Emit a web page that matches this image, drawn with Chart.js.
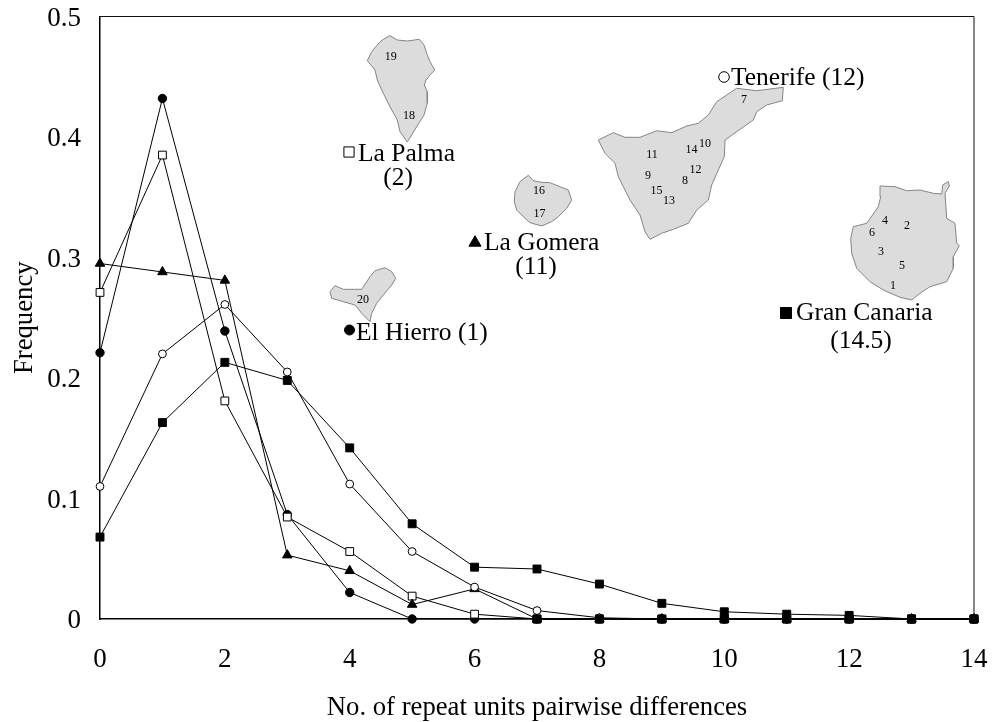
<!DOCTYPE html>
<html>
<head>
<meta charset="utf-8">
<script src="https://cdn.jsdelivr.net/npm/chart.js@4"></script>
<style>
  body { margin: 0; background: #fff; }
  canvas { display: block; }
</style>
</head>
<body>
<canvas id="myChart" width="992" height="722"></canvas>
<script>
const pairwiseDiffs = [0, 1, 2, 3, 4, 5, 6, 7, 8, 9, 10, 11, 12, 13, 14];

const granCanaria = [0.068, 0.163, 0.213, 0.198, 0.142, 0.079, 0.043, 0.0415, 0.029, 0.013, 0.006, 0.004, 0.003, 0, 0];
const tenerife = [0.11, 0.22, 0.261, 0.205, 0.112, 0.056, 0.0265, 0.007, 0.001, 0, 0, 0, 0, 0, 0];
const laGomera = [0.295, 0.288, 0.281, 0.053, 0.04, 0.012, 0.025, 0, 0, 0, 0, 0, 0, 0, 0];
const laPalma = [0.271, 0.385, 0.181, 0.0846, 0.056, 0.019, 0.004, 0, 0, 0, 0, 0, 0, 0, 0];
const elHierro = [0.221, 0.432, 0.239, 0.0867, 0.022, 0, 0, 0, 0, 0, 0, 0, 0, 0, 0];
// filled squares sitting on the zero line in the picture
const zeroSquares = [null, null, null, null, null, null, null, 0, 0, 0, 0, 0, 0, 0, 0];

// island outlines, in map units (see mapX / mapY scales)
const laPalmaShape = [[390,35.7],[397.3,40],[407.3,41],[419.3,39.3],[424,45],[426.7,53.3],[430,61.7],[434.7,70],[430,75],[426,80],[424.3,85],[427.3,91.7],[427.3,103.3],[424,115],[416.7,126.7],[407.3,142],[400,131.7],[397.3,120],[390,106.7],[383.3,93.3],[377.3,80],[375,70],[367.3,60.7],[371.7,51.7],[380,41.7],[385,38.3]];
const laGomeraShape = [[528.3,175.3],[533.3,180.7],[541.7,182.3],[550,182.7],[560,186.7],[568.3,190],[571.7,200],[566.7,208.3],[558.3,216.7],[551.7,221.7],[541.7,226],[530,222.7],[523.3,216.7],[516.7,210],[514.3,201.7],[515,191.7],[520,181.7]];
const elHierroShape = [[330,291.7],[335,285.7],[343.3,289.3],[361.7,289.3],[370,276.7],[375,270.7],[385,267.7],[391.7,271.7],[395.7,278.3],[391.7,285],[383.3,295],[376.7,303.3],[371.7,313.3],[370,321.7],[361.7,313.3],[355,305],[343.3,301.7],[331.7,298.3]];
const tenerifeShape = [[598.3,140],[613.3,132.7],[625,137.3],[640,137.3],[656.7,130.7],[671.7,132.7],[686.7,126],[698.3,123.3],[708.3,115],[716.7,101.7],[726.7,95],[736.7,88.3],[756.7,90.7],[783.3,87.3],[782.3,100.7],[766.7,105],[756.7,111.7],[753.3,120],[736.7,131.7],[725,140],[724.3,156.7],[718.3,170],[711.7,185],[708.3,200],[696.7,210],[688.3,223.3],[673.3,229.3],[661.7,233.3],[650,239.3],[645,231.7],[640,215],[630,200],[618.3,176.7],[615,163.3],[605,153.3]];
const granCanariaShape = [[880,186],[895,186.7],[906.7,190.7],[920,190],[933.3,193.3],[941.7,194],[942.7,185],[948.3,181.7],[949.3,186],[945,193.3],[946.7,218.3],[955,223.3],[956.7,243.3],[959.3,245.7],[953.3,256.7],[953.3,268.3],[946.7,281.7],[930,286.7],[920,293.3],[911.7,300],[900,297.3],[883.3,290],[870,281.7],[856.7,268.3],[851.7,253.3],[850.7,238.3],[853.3,226.7],[866.7,223.3],[878.3,206.7],[880.7,196.7]];

const siteLabels = [
  ['19',390.7,56.5],['18',409,115.5],['16',539,190.5],['17',539.5,213.5],['20',363,299.5],
  ['7',744,99.5],['10',705,143.5],['14',691.5,149.5],['11',652,154.5],['12',695.5,169.5],
  ['9',648,175.5],['8',685,180.5],['15',656.5,190.5],['13',669,200.5],
  ['4',885,220.5],['2',907,225.5],['6',872,232.5],['3',881,251.5],['5',902,265.5],['1',893,285.5]
];
const islandLabels = [
  ['La Palma',358,154,'left'],['(2)',398,178,'center'],
  ['La Gomera',484,243,'left'],['(11)',536,267,'center'],
  ['El Hierro (1)',356,333,'left'],
  ['Tenerife (12)',731,78,'left'],
  ['Gran Canaria',796,313,'left'],['(14.5)',861,341,'center']
];
const keyPoints = [
  { at: [786,313], style: 'rect', radius: 7.8, fill: '#000' },
  { at: [724,77], style: 'circle', radius: 5.3, fill: '#fff' },
  { at: [475,242.7], style: 'triangle', radius: 7, fill: '#000' },
  { at: [349,152], style: 'rect', radius: 7.2, fill: '#fff' },
  { at: [349.5,330], style: 'circle', radius: 5, fill: '#000' }
];

const serif = '"Liberation Serif", serif';

const toPoints = (values) => values.map((v, i) => ({ x: pairwiseDiffs[i], y: v }));

const seriesSet = (label, values, style, radius, fill) => ({
  label,
  data: toPoints(values),
  showLine: true,
  borderColor: '#000',
  borderWidth: 1,
  tension: 0,
  fill: false,
  clip: false,
  pointStyle: style,
  pointRadius: radius,
  pointBackgroundColor: fill,
  pointBorderColor: '#000',
  pointBorderWidth: 1
});

const islandSet = (label, shape) => ({
  label,
  data: shape.concat([shape[0]]).map(p => ({ x: p[0], y: p[1] })),
  xAxisID: 'mapX',
  yAxisID: 'mapY',
  showLine: true,
  borderColor: '#858585',
  borderWidth: 1,
  backgroundColor: '#dcdcdc',
  fill: 'shape',
  tension: 0,
  pointRadius: 0
});

const keySets = keyPoints.map(k => ({
  data: [{ x: k.at[0], y: k.at[1] }],
  xAxisID: 'mapX',
  yAxisID: 'mapY',
  pointStyle: k.style,
  pointRadius: k.radius,
  pointBackgroundColor: k.fill,
  pointBorderColor: '#000',
  pointBorderWidth: 1
}));

// y tick digits sit a bit low in the original
const nudgeLabels = (scale, dy) => {
  if (scale.nudged) return;
  scale.nudged = true;
  const getItems = scale.getLabelItems.bind(scale);
  scale.getLabelItems = (area) => getItems(area).map(item => ({
    ...item,
    options: { ...item.options, translation: [item.options.translation[0], item.options.translation[1] + dy] }
  }));
};

// frame on the top and right sides, map texts
const mapText = {
  id: 'mapText',
  afterDatasetsDraw(chart) {
    const { ctx, chartArea: a, scales } = chart;
    ctx.save();
    ctx.strokeStyle = '#111';
    ctx.lineWidth = 1;
    ctx.beginPath();
    ctx.moveTo(a.left, a.top);
    ctx.lineTo(a.right, a.top);
    ctx.lineTo(a.right, a.bottom);
    ctx.stroke();
    ctx.fillStyle = '#000';
    ctx.textBaseline = 'middle';
    ctx.font = '12px ' + serif;
    ctx.textAlign = 'center';
    siteLabels.forEach(s => {
      ctx.fillText(s[0], scales.mapX.getPixelForValue(s[1]), scales.mapY.getPixelForValue(s[2]));
    });
    ctx.font = '25.5px ' + serif;
    islandLabels.forEach(s => {
      ctx.textAlign = s[3];
      ctx.fillText(s[0], scales.mapX.getPixelForValue(s[1]), scales.mapY.getPixelForValue(s[2]));
    });
    ctx.restore();
  }
};

const ctx = document.getElementById('myChart').getContext('2d');
const simChart = new Chart(ctx, {
  type: 'scatter',
  data: {
    datasets: [
      seriesSet('zero squares', zeroSquares, 'rect', 5.6, '#000'),
      seriesSet('Gran Canaria', granCanaria, 'rect', 5.6, '#000'),
      seriesSet('Tenerife', tenerife, 'circle', 3.9, '#fff'),
      seriesSet('La Gomera', laGomera, 'triangle', 5.5, '#000'),
      seriesSet('La Palma', laPalma, 'rect', 5.5, '#fff'),
      seriesSet('El Hierro', elHierro, 'circle', 4.2, '#000'),
      ...keySets,
      islandSet('La Palma map', laPalmaShape),
      islandSet('La Gomera map', laGomeraShape),
      islandSet('El Hierro map', elHierroShape),
      islandSet('Tenerife map', tenerifeShape),
      islandSet('Gran Canaria map', granCanariaShape)
    ]
  },
  options: {
    responsive: false,
    animation: false,
    layout: { padding: { top: 16.5, right: 18, left: 0, bottom: 0 } },
    plugins: { legend: { display: false }, tooltip: { enabled: false } },
    scales: {
      x: {
        type: 'linear',
        min: 0,
        max: 14,
        afterFit(scale) {
          scale.height = 103;
          scale.paddingLeft = 0;
          scale.paddingRight = 0;
        },
        grid: { display: false, drawTicks: false },
        border: { display: true, color: '#000', width: 1.5 },
        ticks: { stepSize: 2, color: '#000', padding: 25, autoSkip: false, font: { family: serif, size: 27 }, maxRotation: 0 },
        title: { display: true, text: 'No. of repeat units pairwise differences', color: '#000', font: { family: serif, size: 26.7 }, padding: { top: 0, bottom: -2 } }
      },
      y: {
        type: 'linear',
        min: 0,
        max: 0.5,
        afterFit(scale) {
          scale.width = 100;
          scale.paddingTop = 0;
          scale.paddingBottom = 0;
          nudgeLabels(scale, 2);
        },
        grid: { display: false, drawTicks: false },
        border: { display: true, color: '#000', width: 1.5 },
        ticks: { stepSize: 0.1, color: '#000', padding: 19, font: { family: serif, size: 27 } },
        title: { display: true, text: 'Frequency', color: '#000', font: { family: serif, size: 26.7 }, padding: { top: 8.5, bottom: 0 } }
      },
      mapX: { type: 'linear', display: false, min: 100, max: 974 },
      mapY: { type: 'linear', display: false, min: 16.5, max: 619, reverse: true }
    }
  },
  plugins: [mapText]
});
</script>
</body>
</html>
